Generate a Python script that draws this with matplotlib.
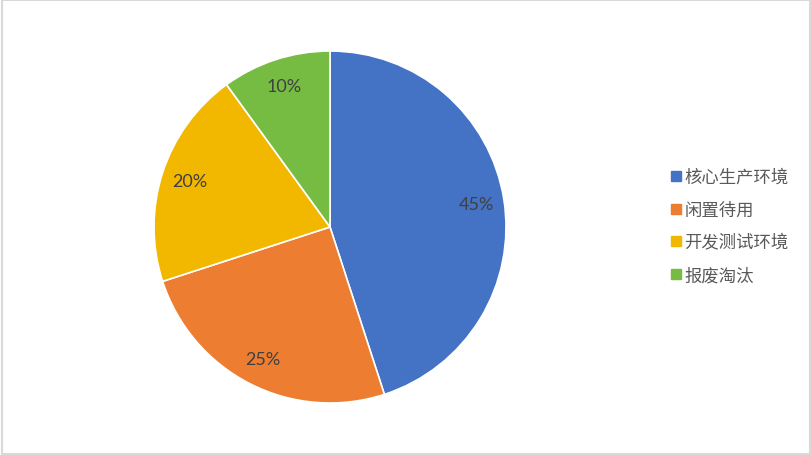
import matplotlib.pyplot as plt
from matplotlib.lines import Line2D
from matplotlib.patches import Rectangle

plt.rcParams['font.family'] = ['Noto Sans CJK SC', 'DejaVu Sans']

labels = ["核心生产环境", "闲置待用", "开发测试环境", "报废淘汰"]
values = [45, 25, 20, 10]
colors = ["#4472C4", "#ED7D31", "#F2B800", "#76BC42"]

fig = plt.figure(figsize=(8.12, 4.56), dpi=100)

# light grey frame around the chart area
fig.patches.append(Rectangle((0.002, 0.003), 0.995, 0.994, transform=fig.transFigure,
                             fill=False, edgecolor="#d9d9d9", linewidth=1.5))

ax = fig.add_axes([154 / 812, 1 - 404 / 456, 352 / 812, 352 / 456])
wedges, texts, autotexts = ax.pie(
    values, colors=colors, startangle=90, counterclock=False,
    autopct="%d%%", pctdistance=0.84,
    wedgeprops=dict(edgecolor="white", linewidth=1.2),
    textprops=dict(color="#404040", fontsize=13, family=["Lato", "DejaVu Sans"]),
)
ax.set_xlim(-1, 1)
ax.set_ylim(-1, 1)
ax.set_aspect("equal")

# legend with small square markers
handles = [Line2D([], [], marker="s", linestyle="none", markersize=6.5,
                  markerfacecolor=c, markeredgecolor=c) for c in colors]
fig.legend(handles, labels, loc="center left", bbox_to_anchor=(654 / 812, 1 - 227 / 456),
           frameon=False, handlelength=0.7, handletextpad=0.15, labelspacing=0.85,
           prop=dict(size=12.5), labelcolor="#595959")

fig.savefig("out.png", dpi=100)
